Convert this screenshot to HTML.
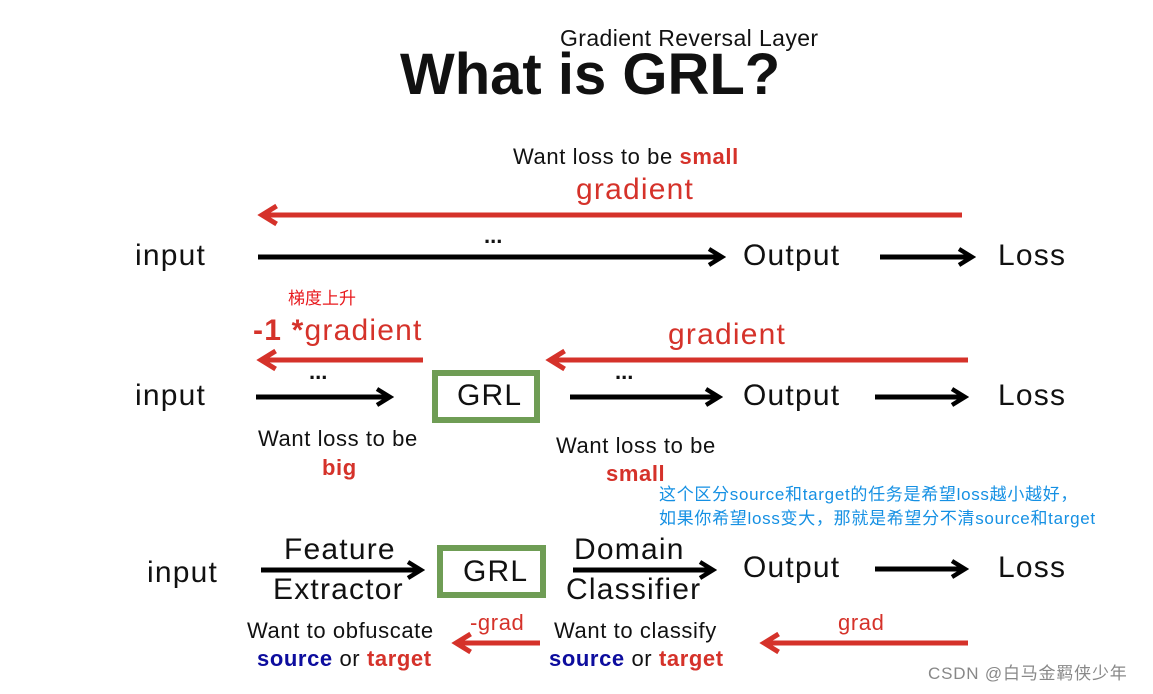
<!DOCTYPE html>
<html><head><meta charset="utf-8"><style>
body{margin:0;width:1153px;height:694px;background:#fff;position:relative;overflow:hidden;font-family:"Liberation Sans","Noto Sans CJK SC",sans-serif;color:#111}
.t{position:absolute;white-space:nowrap;line-height:1}
.r{color:#d5322a}.b{font-weight:bold}.bl{color:#0d0d9e}
.s{font-size:22px;letter-spacing:0.6px}
.L{font-size:30px;letter-spacing:1.2px}
svg{position:absolute;left:0;top:0}
</style></head><body>
<svg width="1153" height="694">
<defs>
<marker id="k" viewBox="0 0 10 10" refX="8" refY="5" markerWidth="4" markerHeight="5" orient="auto" markerUnits="strokeWidth"><polyline points="1.5,1 8,5 1.5,9" fill="none" stroke="#000" stroke-width="2.2"/></marker>
<marker id="rd" viewBox="0 0 10 10" refX="8" refY="5" markerWidth="4.5" markerHeight="5.5" orient="auto" markerUnits="strokeWidth"><polyline points="1.5,1 8,5 1.5,9" fill="none" stroke="#d5322a" stroke-width="2.2"/></marker>
</defs>
<g stroke-width="5" fill="none">
<line x1="962" y1="215" x2="262" y2="215" stroke="#d5322a" marker-end="url(#rd)"/>
<line x1="258" y1="257" x2="722" y2="257" stroke="#000" marker-end="url(#k)"/>
<line x1="880" y1="257" x2="972" y2="257" stroke="#000" marker-end="url(#k)"/>
<line x1="423" y1="360" x2="261" y2="360" stroke="#d5322a" marker-end="url(#rd)"/>
<line x1="968" y1="360" x2="550" y2="360" stroke="#d5322a" marker-end="url(#rd)"/>
<line x1="256" y1="397" x2="390" y2="397" stroke="#000" marker-end="url(#k)"/>
<line x1="570" y1="397" x2="719" y2="397" stroke="#000" marker-end="url(#k)"/>
<line x1="875" y1="397" x2="965" y2="397" stroke="#000" marker-end="url(#k)"/>
<line x1="261" y1="570" x2="421" y2="570" stroke="#000" marker-end="url(#k)"/>
<line x1="573" y1="570" x2="713" y2="570" stroke="#000" marker-end="url(#k)"/>
<line x1="875" y1="569" x2="965" y2="569" stroke="#000" marker-end="url(#k)"/>
<line x1="540" y1="643" x2="456" y2="643" stroke="#d5322a" marker-end="url(#rd)"/>
<line x1="968" y1="643" x2="764" y2="643" stroke="#d5322a" marker-end="url(#rd)"/>
</g>
<rect x="435" y="373" width="102" height="47" fill="none" stroke="#6f9d55" stroke-width="6"/>
<rect x="440" y="548" width="103" height="47" fill="none" stroke="#6f9d55" stroke-width="6"/>
</svg>
<div class="t" style="left:560px;top:27px;font-size:23px;letter-spacing:0.4px">Gradient Reversal Layer</div>
<div class="t b" style="left:400px;top:46px;font-size:58px">What is GRL?</div>
<div class="t s" style="left:513px;top:146px">Want loss to be <span class="r b">small</span></div>
<div class="t r L" style="left:576px;top:175px">gradient</div>
<div class="t L" style="left:135px;top:241px">input</div>
<div class="t b" style="left:484px;top:225px;font-size:22px">...</div>
<div class="t L" style="left:743px;top:241px">Output</div>
<div class="t L" style="left:998px;top:241px">Loss</div>
<div class="t" style="left:288px;top:290px;font-size:17px;color:#e8191d">梯度上升</div>
<div class="t r L" style="left:253px;top:316px"><span class="b">-1 *</span>gradient</div>
<div class="t r L" style="left:668px;top:320px">gradient</div>
<div class="t L" style="left:135px;top:381px">input</div>
<div class="t b" style="left:309px;top:361px;font-size:22px">...</div>
<div class="t L" style="left:457px;top:381px">GRL</div>
<div class="t b" style="left:615px;top:361px;font-size:22px">...</div>
<div class="t L" style="left:743px;top:381px">Output</div>
<div class="t L" style="left:998px;top:381px">Loss</div>
<div class="t s" style="left:258px;top:428px">Want loss to be</div>
<div class="t r b s" style="left:322px;top:457px">big</div>
<div class="t s" style="left:556px;top:435px">Want loss to be</div>
<div class="t r b s" style="left:606px;top:463px">small</div>
<div class="t" style="left:659px;top:486px;font-size:17px;letter-spacing:0.7px;color:#1590e3">这个区分source和target的任务是希望loss越小越好，</div>
<div class="t" style="left:659px;top:510px;font-size:17px;letter-spacing:0.7px;color:#1590e3">如果你希望loss变大，那就是希望分不清source和target</div>
<div class="t L" style="left:147px;top:558px">input</div>
<div class="t L" style="left:284px;top:535px">Feature</div>
<div class="t L" style="left:273px;top:575px">Extractor</div>
<div class="t L" style="left:463px;top:557px">GRL</div>
<div class="t L" style="left:574px;top:535px">Domain</div>
<div class="t L" style="left:566px;top:575px">Classifier</div>
<div class="t L" style="left:743px;top:553px">Output</div>
<div class="t L" style="left:998px;top:553px">Loss</div>
<div class="t s" style="left:247px;top:620px">Want to obfuscate</div>
<div class="t b s" style="left:257px;top:648px"><span class="bl">source</span> <span style="font-weight:normal">or</span> <span class="r">target</span></div>
<div class="t r s" style="left:470px;top:612px">-grad</div>
<div class="t s" style="left:554px;top:620px">Want to classify</div>
<div class="t b s" style="left:549px;top:648px"><span class="bl">source</span> <span style="font-weight:normal">or</span> <span class="r">target</span></div>
<div class="t r s" style="left:838px;top:612px">grad</div>
<div class="t" style="left:928px;top:665px;font-size:17px;letter-spacing:0.8px;color:#888">CSDN @白马金羁侠少年</div>
</body></html>
